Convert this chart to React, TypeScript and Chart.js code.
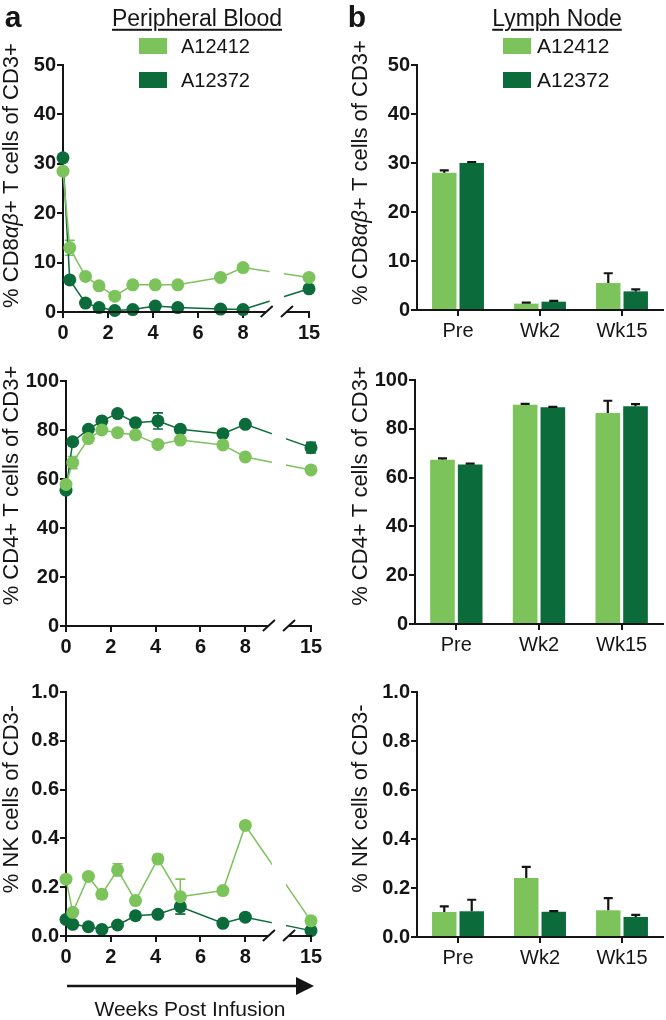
import React, { useEffect, useRef } from "react";
import { Chart, registerables } from "chart.js";

Chart.register(...registerables);

// ---------- data ----------
const seriesNames = ["A12412", "A12372"];
const weeks = [0, 0.3, 1, 1.6, 2.3, 3.1, 4.1, 5.1, 7, 8, 15];
const xTickWeeks = [0, 2, 4, 6, 8, 15];
const categories = ["Pre", "Wk2", "Wk15"];

// Peripheral blood (line panels)
const cd8Light = [28.5, 13, 7.2, 5.3, 3.2, 5.5, 5.5, 5.5, 7, 9, 7];
const cd8Dark = [31.2, 6.5, 1.8, 0.9, 0.3, 0.5, 1.2, 0.9, 0.6, 0.5, 4.7];
const cd8LightErr = [0, 1.5, 0, 0, 0, 0, 0, 0, 0, 0, 0];
const cd8DarkErr = [0, 0, 0, 0, 0, 0, 0, 0, 0, 0, 0];

const cd4Light = [57.8, 66.7, 76.5, 80, 78.9, 78, 74.1, 75.9, 73.9, 69, 63.7];
const cd4Dark = [55.4, 75.2, 80.3, 83.7, 86.7, 83, 83.7, 80.3, 78.5, 82.3, 72.8];
const cd4LightErr = [0, 2.5, 0, 0, 0, 0, 0, 0, 0, 0, 0];
const cd4DarkErr = [0, 0, 0, 0, 0, 0, 3.3, 1.5, 0, 0, 2.2];

const nkLight = [0.233, 0.097, 0.244, 0.171, 0.271, 0.145, 0.316, 0.161, 0.186, 0.453, 0.062];
const nkDark = [0.068, 0.048, 0.038, 0.027, 0.045, 0.083, 0.089, 0.12, 0.052, 0.077, 0.022];
const nkLightErr = [0, 0, 0, 0.018, 0.025, 0, 0.018, 0.072, 0, 0, 0];
const nkDarkErr = [0, 0, 0, 0, 0, 0, 0, 0.03, 0, 0, 0];

// Lymph node (bar panels)
const cd8BarLight = [28, 1.3, 5.5];
const cd8BarDark = [30, 1.7, 3.8];
const cd8BarLightErr = [0.5, 0.2, 2.0];
const cd8BarDarkErr = [0.2, 0.15, 0.4];

const cd4BarLight = [67.3, 89.9, 86.5];
const cd4BarDark = [65.4, 88.8, 89.2];
const cd4BarLightErr = [0.6, 0.3, 5.0];
const cd4BarDarkErr = [0.3, 0.2, 0.9];

const nkBarLight = [0.102, 0.241, 0.109];
const nkBarDark = [0.105, 0.103, 0.082];
const nkBarLightErr = [0.023, 0.045, 0.05];
const nkBarDarkErr = [0.047, 0.003, 0.008];

// ---------- style ----------
const LIGHT = "#7DC35C";
const DARK = "#0B6B3A";
const INK = "#151515";
const FONT = "'Liberation Sans', Arial, Helvetica, sans-serif";
const TOP_PAD = 40;
const TICK_SIZE = 20;

// broken x axis: week 15 is drawn at virtual position V15
const V15 = 10.93;
const mapWeek = (w: number) => (w > 9 ? w - (15 - V15) : w);

type Seg = { t: string; italic?: boolean };
const titleCD8: Seg[] = [{ t: "% CD8" }, { t: "αβ", italic: true }, { t: "+ T cells of CD3+" }];
const titleCD4: Seg[] = [{ t: "% CD4+ T cells of CD3+" }];
const titleNK: Seg[] = [{ t: "% NK cells of CD3-" }];

const linePanels = [
  { L: 63, T: 65, R: 309, B: 312, yMax: 50, yStep: 10, dec: 0, title: titleCD8, titleX: 12, titleDy: -13, light: cd8Light, dark: cd8Dark, lightErr: cd8LightErr, darkErr: cd8DarkErr },
  { L: 66, T: 381, R: 311, B: 626, yMax: 100, yStep: 20, dec: 0, title: titleCD4, titleX: 12, titleDy: -18, light: cd4Light, dark: cd4Dark, lightErr: cd4LightErr, darkErr: cd4DarkErr },
  { L: 66, T: 692, R: 311, B: 936, yMax: 1, yStep: 0.2, dec: 1, title: titleNK, titleX: 12, titleDy: -15, light: nkLight, dark: nkDark, lightErr: nkLightErr, darkErr: nkDarkErr },
];

const barPanels = [
  { L: 417, T: 65, R: 663, B: 310, yMax: 50, yStep: 10, dec: 0, title: titleCD8, titleX: 361, titleDy: -15, light: cd8BarLight, dark: cd8BarDark, lightErr: cd8BarLightErr, darkErr: cd8BarDarkErr },
  { L: 415, T: 380, R: 663, B: 624, yMax: 100, yStep: 20, dec: 0, title: titleCD4, titleX: 361, titleDy: -16, light: cd4BarLight, dark: cd4BarDark, lightErr: cd4BarLightErr, darkErr: cd4BarDarkErr },
  { L: 417, T: 692, R: 663, B: 937, yMax: 1, yStep: 0.2, dec: 1, title: titleNK, titleX: 361, titleDy: -16, light: nkBarLight, dark: nkBarDark, lightErr: nkBarLightErr, darkErr: nkBarDarkErr },
];

function drawRotatedTitle(ctx: any, segs: Seg[], x: number, y: number, size: number) {
  ctx.save();
  ctx.translate(x, y);
  ctx.rotate(-Math.PI / 2);
  ctx.fillStyle = INK;
  ctx.textBaseline = "middle";
  ctx.textAlign = "left";
  const fontFor = (s: Seg) => `${s.italic ? "italic " : ""}${size}px ${FONT}`;
  let total = 0;
  for (const s of segs) {
    ctx.font = fontFor(s);
    total += ctx.measureText(s.t).width;
  }
  let pos = -total / 2;
  for (const s of segs) {
    ctx.font = fontFor(s);
    ctx.fillText(s.t, pos, 0);
    pos += ctx.measureText(s.t).width;
  }
  ctx.restore();
}

function yAxis(p: any, width: number) {
  return {
    min: 0,
    max: p.yMax,
    afterFit: (s: any) => {
      s.width = width;
    },
    ticks: {
      stepSize: p.yStep,
      padding: 1,
      color: INK,
      font: { family: FONT, size: TICK_SIZE, weight: "bold" },
      callback: (v: any) => Number(v).toFixed(p.dec),
    },
    grid: { drawOnChartArea: false, drawTicks: true, tickLength: 6, color: INK, lineWidth: 2 },
    border: { display: true, color: INK, width: 2 },
  };
}

function LinePanel({ p }: { p: any }) {
  const ref = useRef<HTMLCanvasElement | null>(null);
  const cx = 0;
  const cy = p.T - TOP_PAD;
  const cw = p.R + 16;
  const ch = p.B - cy + 34;
  useEffect(() => {
    const errs = [p.lightErr, p.darkErr];
    const mk = (vals: number[]) => weeks.map((w, i) => ({ x: mapWeek(w), y: vals[i] }));
    const chart = new Chart(ref.current as HTMLCanvasElement, {
      type: "line",
      data: {
        datasets: [
          { label: seriesNames[0], data: mk(p.light), borderColor: LIGHT, backgroundColor: LIGHT, pointBackgroundColor: LIGHT, borderWidth: 1.5, pointRadius: 6.5, pointBorderWidth: 0, tension: 0, clip: false } as any,
          { label: seriesNames[1], data: mk(p.dark), borderColor: DARK, backgroundColor: DARK, pointBackgroundColor: DARK, borderWidth: 1.5, pointRadius: 6.5, pointBorderWidth: 0, tension: 0, clip: false } as any,
        ],
      },
      options: {
        animation: false,
        responsive: false,
        events: [],
        layout: { padding: { left: 0, top: TOP_PAD, right: 16, bottom: 0 } },
        plugins: { legend: { display: false }, tooltip: { enabled: false } },
        scales: {
          x: {
            type: "linear",
            min: 0,
            max: V15,
            afterFit: (s: any) => {
              s.height = 34;
            },
            afterBuildTicks: (s: any) => {
              s.ticks = xTickWeeks.map((w) => ({ value: mapWeek(w) }));
            },
            ticks: {
              padding: 3,
              color: INK,
              font: { family: FONT, size: TICK_SIZE, weight: "bold" },
              callback: (v: any) => (Math.abs(v - V15) < 1e-6 ? "15" : String(v)),
            },
            grid: { drawOnChartArea: false, drawTicks: true, tickLength: 6, color: INK, lineWidth: 2 },
            border: { display: false },
          },
          y: yAxis(p, p.L - cx) as any,
        },
      },
      plugins: [
        {
          id: "lineErr",
          beforeDatasetsDraw(chart: any) {
            const { ctx, scales } = chart;
            chart.data.datasets.forEach((ds: any, i: number) => {
              const meta = chart.getDatasetMeta(i);
              ds.data.forEach((pt: any, j: number) => {
                const e = errs[i][j];
                if (!e) return;
                const x = meta.data[j].x;
                const y1 = scales.y.getPixelForValue(pt.y + e);
                const y2 = scales.y.getPixelForValue(pt.y - e);
                ctx.save();
                ctx.strokeStyle = ds.borderColor;
                ctx.lineWidth = 1.6;
                ctx.beginPath();
                ctx.moveTo(x, y1);
                ctx.lineTo(x, y2);
                ctx.moveTo(x - 5, y1);
                ctx.lineTo(x + 5, y1);
                ctx.moveTo(x - 5, y2);
                ctx.lineTo(x + 5, y2);
                ctx.stroke();
                ctx.restore();
              });
            });
          },
        },
        {
          id: "brokenAxis",
          afterDatasetsDraw(chart: any) {
            const { ctx, chartArea, scales } = chart;
            const b = chartArea.bottom;
            const c1 = scales.x.getPixelForValue(9.05);
            const c2 = scales.x.getPixelForValue(9.95);
            ctx.save();
            ctx.fillStyle = "#ffffff";
            ctx.fillRect(c1 + 3, chartArea.top - 15, c2 - c1 - 6, b - chartArea.top + 25);
            ctx.strokeStyle = INK;
            ctx.lineWidth = 2;
            ctx.beginPath();
            ctx.moveTo(chartArea.left - 1, b);
            ctx.lineTo(c1, b);
            ctx.moveTo(c1 - 6, b + 5);
            ctx.lineTo(c1 + 6, b - 6);
            ctx.moveTo(c2 - 6, b + 5);
            ctx.lineTo(c2 + 6, b - 6);
            ctx.moveTo(c2, b);
            ctx.lineTo(chartArea.right + 1, b);
            ctx.stroke();
            ctx.restore();
          },
        },
        {
          id: "ytitle",
          afterDraw(chart: any) {
            const { ctx, chartArea } = chart;
            drawRotatedTitle(ctx, p.title, p.titleX - cx, (chartArea.top + chartArea.bottom) / 2 + p.titleDy, 22);
          },
        },
      ],
    });
    return () => chart.destroy();
  }, []);
  return (
    <canvas
      ref={ref}
      width={cw}
      height={ch}
      style={{ position: "absolute", left: cx, top: cy, width: cw, height: ch }}
    />
  );
}

function BarPanel({ p }: { p: any }) {
  const ref = useRef<HTMLCanvasElement | null>(null);
  const cx = 350;
  const cy = p.T - TOP_PAD;
  const cw = 666 - cx;
  const ch = p.B - cy + 34;
  useEffect(() => {
    const errs = [p.lightErr, p.darkErr];
    const chart = new Chart(ref.current as HTMLCanvasElement, {
      type: "bar",
      data: {
        labels: categories,
        datasets: [
          { label: seriesNames[0], data: p.light, backgroundColor: LIGHT, borderWidth: 0, categoryPercentage: 0.67, barPercentage: 0.89 } as any,
          { label: seriesNames[1], data: p.dark, backgroundColor: DARK, borderWidth: 0, categoryPercentage: 0.67, barPercentage: 0.89 } as any,
        ],
      },
      options: {
        animation: false,
        responsive: false,
        events: [],
        layout: { padding: { left: 0, top: TOP_PAD, right: cx + cw - p.R, bottom: 0 } },
        plugins: { legend: { display: false }, tooltip: { enabled: false } },
        scales: {
          x: {
            type: "category",
            offset: true,
            afterFit: (s: any) => {
              s.height = 34;
            },
            ticks: {
              padding: 3,
              color: INK,
              font: { family: FONT, size: 20 },
            },
            grid: { offset: false, drawOnChartArea: false, drawTicks: true, tickLength: 6, color: INK, lineWidth: 2 },
            border: { display: true, color: INK, width: 2 },
          },
          y: yAxis(p, p.L - cx) as any,
        },
      },
      plugins: [
        {
          id: "barErr",
          afterDatasetsDraw(chart: any) {
            const { ctx, scales } = chart;
            chart.data.datasets.forEach((ds: any, i: number) => {
              const meta = chart.getDatasetMeta(i);
              ds.data.forEach((v: number, j: number) => {
                const e = errs[i][j];
                const bar = meta.data[j];
                const yTop = scales.y.getPixelForValue(v + e);
                ctx.save();
                ctx.strokeStyle = INK;
                ctx.lineWidth = 2.2;
                ctx.beginPath();
                ctx.moveTo(bar.x, bar.y);
                ctx.lineTo(bar.x, yTop);
                ctx.moveTo(bar.x - 4.5, yTop);
                ctx.lineTo(bar.x + 4.5, yTop);
                ctx.stroke();
                ctx.restore();
              });
            });
          },
        },
        {
          id: "ytitle",
          afterDraw(chart: any) {
            const { ctx, chartArea } = chart;
            drawRotatedTitle(ctx, p.title, p.titleX - cx, (chartArea.top + chartArea.bottom) / 2 + p.titleDy, 22);
          },
        },
      ],
    });
    return () => chart.destroy();
  }, []);
  return (
    <canvas
      ref={ref}
      width={cw}
      height={ch}
      style={{ position: "absolute", left: cx, top: cy, width: cw, height: ch }}
    />
  );
}

function Text({ x, y, size, bold, underline, children, anchor = "middle" }: any) {
  return (
    <div
      style={{
        position: "absolute",
        left: x,
        top: y,
        transform: anchor === "middle" ? "translate(-50%, -50%)" : "translate(0, -50%)",
        fontSize: size,
        fontWeight: bold ? "bold" : "normal",
        textDecoration: underline ? "underline" : "none",
        textUnderlineOffset: 3,
        textDecorationThickness: 1.5,
        lineHeight: 1.15,
        whiteSpace: "nowrap",
        color: INK,
      }}
    >
      {children}
    </div>
  );
}

function Legend({ boxX, textX, size }: any) {
  const rows = [
    { name: seriesNames[0], color: LIGHT, y: 46 },
    { name: seriesNames[1], color: DARK, y: 80 },
  ];
  return (
    <>
      {rows.map((r) => (
        <React.Fragment key={r.name}>
          <div style={{ position: "absolute", left: boxX, top: r.y - 8, width: 28, height: 16, background: r.color }} />
          <Text x={textX} y={r.y} size={size} anchor="start">
            {r.name}
          </Text>
        </React.Fragment>
      ))}
    </>
  );
}

export default function App() {
  return (
    <div
      style={{
        position: "absolute",
        left: 0,
        top: 0,
        width: 666,
        height: 1020,
        background: "#ffffff",
        fontFamily: FONT,
        overflow: "hidden",
      }}
    >
      {linePanels.map((p, i) => (
        <LinePanel key={"line" + i} p={p} />
      ))}
      {barPanels.map((p, i) => (
        <BarPanel key={"bar" + i} p={p} />
      ))}

      <Text x={13} y={17} size={30} bold>
        a
      </Text>
      <Text x={357} y={17} size={30} bold>
        b
      </Text>
      <Text x={197} y={18} size={23} underline>
        Peripheral Blood
      </Text>
      <Text x={557} y={18} size={23} underline>
        Lymph Node
      </Text>
      <Legend boxX={139} textX={181} size={20} />
      <Legend boxX={503} textX={537} size={21} />

      <svg width={666} height={1020} style={{ position: "absolute", left: 0, top: 0, pointerEvents: "none" }}>
        <line x1={67} y1={986} x2={300} y2={986} stroke={INK} strokeWidth={2.5} />
        <polygon points="296,977 314,986 296,995" fill={INK} />
      </svg>
      <Text x={190} y={1009} size={21}>
        Weeks Post Infusion
      </Text>
    </div>
  );
}
